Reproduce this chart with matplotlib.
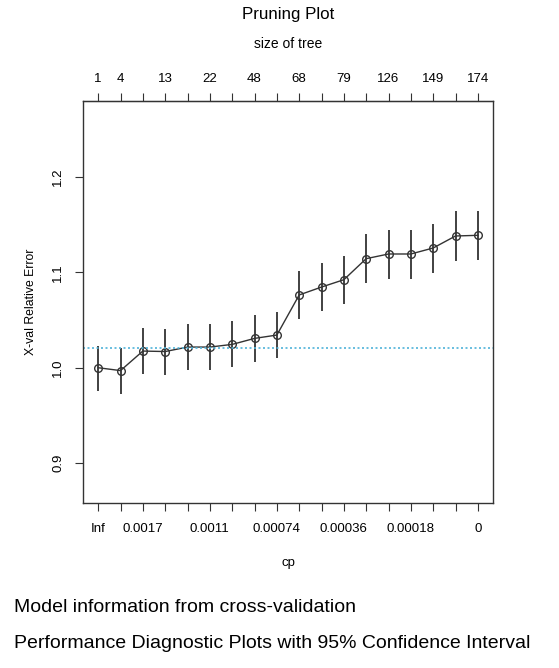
import numpy as np
import matplotlib
matplotlib.use('Agg')
import matplotlib.pyplot as plt

plt.rcParams['font.family'] = ['Liberation Sans', 'DejaVu Sans']

# cross-validated relative error per subtree, with its spread
xerror = [1.000, 0.997, 1.0175, 1.017, 1.0217, 1.0217, 1.0245, 1.0308, 1.0343,
          1.0764, 1.0847, 1.0924, 1.1145, 1.1194, 1.1194, 1.1257, 1.1383, 1.139]
xupper = [1.0231, 1.021, 1.0414, 1.041, 1.0462, 1.0462, 1.049, 1.055, 1.0588,
          1.1019, 1.110, 1.1173, 1.1404, 1.1446, 1.1446, 1.1513, 1.1646, 1.1646]
xlower = [0.9755, 0.9724, 0.9931, 0.9923, 0.9976, 0.9976, 1.0003, 1.006, 1.0098,
          1.0511, 1.0592, 1.0669, 1.089, 1.0932, 1.0932, 1.0998, 1.1121, 1.1131]
size_labels = ['1', '4', '', '13', '', '22', '', '48', '', '68', '', '79', '',
               '126', '', '149', '', '174']
cp_labels = ['Inf', '', '0.0017', '', '', '0.0011', '', '', '0.00074', '', '',
             '0.00036', '', '', '0.00018', '', '', '0']
threshold = 1.0205

n = len(xerror)
x = np.arange(1, n + 1)

fig = plt.figure(figsize=(5.59, 6.68), dpi=100)
ax = fig.add_axes([0.1485, 0.247, 0.7335, 0.6018])

ax.vlines(x, xlower, xupper, color='#333333', linewidth=1.3)
ax.plot(x, xerror, '-', color='#333333', linewidth=1.0,
        marker='o', markersize=5.5, markerfacecolor='none',
        markeredgecolor='#333333', markeredgewidth=1.0)
ax.axhline(threshold, color='#4fb3d9', linestyle=(0, (1.2, 1.5)), linewidth=1.2)

ax.set_xlim(1 - 0.04 * (n - 1), n + 0.04 * (n - 1))
ax.set_ylim(0.858, 1.280)

ax.set_xticks(x)
ax.set_xticklabels(cp_labels, fontsize=9.5)
ax.set_yticks([0.9, 1.0, 1.1, 1.2])
ax.set_yticklabels(['0.9', '1.0', '1.1', '1.2'], fontsize=9.5,
                   rotation=90, va='center')
ax.tick_params(axis='both', length=5.5, width=0.8, pad=6, color='#333333')
ax.tick_params(axis='x', pad=9)
ax.tick_params(axis='y', pad=8)

for s in ax.spines.values():
    s.set_linewidth(1.0)
    s.set_color('#333333')

ax.set_xlabel('cp', fontsize=9.5, labelpad=16)
ax.set_ylabel('X-val Relative Error', fontsize=8.8, labelpad=11)

top = ax.secondary_xaxis('top')
top.set_xticks(x)
top.set_xticklabels(size_labels, fontsize=9.5)
top.tick_params(length=5.5, width=0.8, pad=6, color='#333333')
top.set_xlabel('size of tree', fontsize=10, labelpad=18)

fig.text(0.515, 0.979, 'Pruning Plot', ha='center', va='center', fontsize=12.2)

fig.text(0.025, 0.091, 'Model information from cross-validation',
         ha='left', va='center', fontsize=14)
fig.text(0.025, 0.036, 'Performance Diagnostic Plots with 95% Confidence Interval',
         ha='left', va='center', fontsize=14)

fig.savefig('out.png', dpi=100)
